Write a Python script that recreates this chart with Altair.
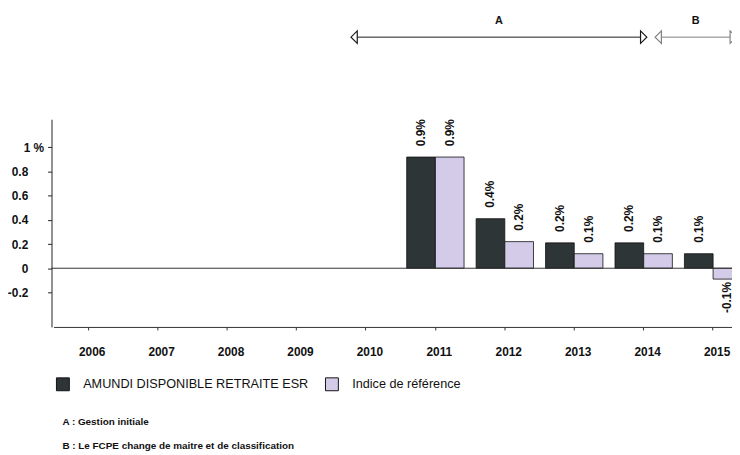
import altair as alt
import pandas as pd

# ---- data ----
years = ["2006", "2007", "2008", "2009", "2010", "2011", "2012", "2013", "2014", "2015"]
bar_years = ["2011", "2012", "2013", "2014", "2015"]
fund_values = [0.92, 0.41, 0.21, 0.21, 0.12]
index_values = [0.92, 0.22, 0.12, 0.12, -0.09]
series_names = ["AMUNDI DISPONIBLE RETRAITE ESR", "Indice de référence"]
series_colors = ["#2e3537", "#d3cbe8"]
y_ticks = [1, 0.8, 0.6, 0.4, 0.2, 0, -0.2]

period_names = ["A", "B"]
period_start = [2009.83, 2014.21]
period_end = [2014.0, 2015.29]
period_colors = ["#1a1a1a", "#808080"]

notes = ["A : Gestion initiale", "B : Le FCPE change de maitre et de classification"]

FONT = "Liberation Sans"
X_RANGE = [2, 704]

rows = []
for y, f, i in zip(bar_years, fund_values, index_values):
    rows.append({"year": y, "series": series_names[0], "value": f})
    rows.append({"year": y, "series": series_names[1], "value": i})
bars_df = pd.DataFrame(rows)

periods_df = pd.DataFrame({"name": period_names, "start": period_start,
                           "end": period_end, "color": period_colors})

x_scale = alt.Scale(domain=years, range=X_RANGE, paddingInner=0.174, paddingOuter=0.087)
y_scale = alt.Scale(domain=[-0.486, 1.233], nice=False, zero=False)

x_axis = alt.Axis(title=None, labelAngle=0, labelFont=FONT, labelFontSize=12,
                  labelFontWeight="bold", labelColor="#111", tickSize=3,
                  labelPadding=17, labelOffset=4, domainColor="#333",
                  tickColor="#333", grid=False)
y_axis = alt.Axis(title=None, values=y_ticks, grid=False,
                  labelExpr="datum.value == 1 ? '1 %' : '' + round(datum.value * 10) / 10",
                  labelFont=FONT, labelFontSize=12, labelFontWeight="bold",
                  labelColor="#111", tickSize=4, domainColor="#222", tickColor="#222",
                  labelPadding={"condition": {"test": "datum.value == 1", "value": 4}, "value": 20})

x_enc = alt.X("year:N", scale=x_scale, sort=years, axis=x_axis)
xoff = alt.XOffset("series:N", scale=alt.Scale(domain=series_names))
y_enc = alt.Y("value:Q", scale=y_scale, axis=y_axis)

bars = alt.Chart(bars_df).mark_bar(stroke="#111", strokeWidth=0.8).encode(
    x=x_enc, xOffset=xoff, y=y_enc, y2=alt.datum(0),
    color=alt.Color("series:N", scale=alt.Scale(domain=series_names, range=series_colors),
                    legend=alt.Legend(title=None, orient="none", legendX=4, legendY=260,
                                      direction="horizontal", symbolType="square",
                                      symbolSize=170, symbolStrokeColor="#111",
                                      symbolStrokeWidth=1, labelFont=FONT, labelFontSize=12.8,
                                      labelColor="#111", labelOffset=13, columnPadding=14,
                                      labelLimit=0)))

zero_rule = alt.Chart(pd.DataFrame({"value": [0]})).mark_rule(
    color="#333", strokeWidth=1).encode(y=y_enc)

label_base = alt.Chart(bars_df).transform_calculate(
    label="replace(format(datum.value, '.1f'), '\u2212', '-') + '%'")

pos_labels = label_base.transform_filter("datum.value >= 0").mark_text(
    angle=270, align="left", baseline="middle", dx=11, font=FONT, fontSize=12,
    fontWeight="bold", color="#111").encode(
    x=x_enc, xOffset=xoff, y=y_enc, text="label:N")

neg_labels = label_base.transform_filter("datum.value < 0").mark_text(
    angle=270, align="right", baseline="middle", dx=-3, font=FONT, fontSize=12,
    fontWeight="bold", color="#111").encode(
    x=x_enc, xOffset=xoff, y=y_enc, text="label:N")

main = alt.layer(bars, zero_rule, pos_labels, neg_labels)

# ---- period annotations above the plot ----
LEFT_HEAD = "M -0.5 0 L 0.5 -1 L 0.5 1 Z"
RIGHT_HEAD = "M 0.5 0 L -0.5 -1 L -0.5 1 Z"
px_scale = alt.Scale(domain=[2005.5, 2015.5], range=X_RANGE, nice=False, zero=False)
pbase = alt.Chart(periods_df)
p_rule = pbase.mark_rule(strokeWidth=1).encode(
    x=alt.X("start:Q", scale=px_scale, axis=None), x2="end:Q", y=alt.value(-83),
    color=alt.Color("color:N", scale=None, legend=None))
p_left = pbase.mark_point(shape=LEFT_HEAD, filled=True, fill="white", size=160,
                          strokeWidth=1.2, opacity=1).encode(
    x=alt.X("start:Q", scale=px_scale, axis=None), y=alt.value(-83),
    stroke=alt.Stroke("color:N", scale=None, legend=None))
p_right = pbase.mark_point(shape=RIGHT_HEAD, filled=True, fill="white", size=160,
                           strokeWidth=1.2, opacity=1).encode(
    x=alt.X("end:Q", scale=px_scale, axis=None), y=alt.value(-83),
    stroke=alt.Stroke("color:N", scale=None, legend=None))
p_text = pbase.transform_calculate(mid="(datum.start + datum.end) / 2").mark_text(
    font=FONT, fontSize=11, fontWeight="bold", color="#111", baseline="middle").encode(
    x=alt.X("mid:Q", scale=px_scale, axis=None), y=alt.value(-99.5), text="name:N")

annot = alt.layer(p_rule, p_left, p_right, p_text)

# ---- notes below the legend ----
note_layers = []
for k, note in enumerate(notes):
    note_layers.append(
        alt.Chart(pd.DataFrame({"note": [note]})).mark_text(
            font=FONT, fontSize=10, fontWeight="bold", color="#111", align="left",
            baseline="middle").encode(
            x=alt.value(11), y=alt.value(306 + 24 * k), text="note:N"))

chart = alt.layer(main, annot, *note_layers).resolve_scale(
    x="independent", color="independent", stroke="independent").properties(
    width=688, height=210, background="white",
    padding={"left": 44, "top": 110, "right": 0, "bottom": 127},
    autosize=alt.AutoSizeParams(type="none"),
).configure_view(strokeWidth=0, stroke=None)

chart.save("out.html", embed_options={"renderer": "svg", "actions": False})
